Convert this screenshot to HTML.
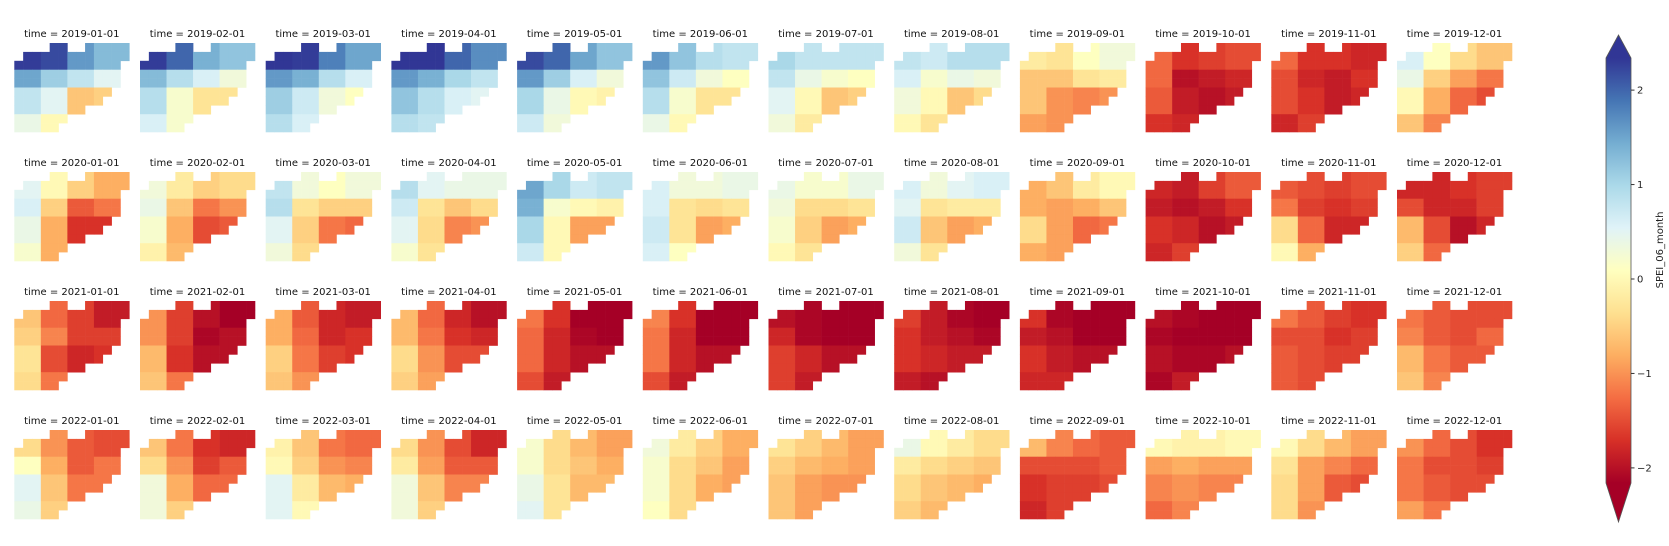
<!DOCTYPE html>
<html><head><meta charset="utf-8"><style>
html,body{margin:0;padding:0;background:#fff;}
svg{display:block;font-family:"DejaVu Sans","Liberation Sans",sans-serif;}
</style></head><body>
<svg id="fig" width="1669" height="546" viewBox="0 0 1669 546" xmlns="http://www.w3.org/2000/svg">
<defs><linearGradient id="cbgrad" x1="0" y1="1" x2="0" y2="0"></linearGradient></defs>
<g id="panels"></g>
<g id="cbar"></g>
</svg>
<script>
// Facet grid data: 4 years x 12 months; each panel: coarse SPEI values
// bands A,B,C (4 col-bands L,ML,MR,R each) and D (L,ML)
const years = ["2019","2020","2021","2022"];
const months = ["01","02","03","04","05","06","07","08","09","10","11","12"];
const vals2019 = [
[2.3,2.2,1.6,1.3, 1.5,1.1,0.8,0.5, 0.8,0.5,-0.6,-0.5, 0.4,0.0],
[2.3,2.0,1.4,1.2, 1.3,0.9,0.6,0.3, 0.9,0.2,-0.3,-0.3, 0.6,0.2],
[2.4,2.3,1.8,1.5, 1.6,1.4,0.9,0.6, 1.1,0.7,0.3,0.1, 0.9,0.6],
[2.4,2.4,2.0,1.7, 1.6,1.4,1.0,0.8, 1.2,0.9,0.6,0.5, 0.9,0.8],
[2.2,2.0,1.5,1.2, 1.6,1.1,0.6,0.3, 1.0,0.4,0.0,-0.1, 0.7,0.3],
[1.6,1.2,0.9,0.8, 1.2,0.7,0.3,0.1, 0.9,0.2,-0.3,-0.3, 0.4,0.0],
[1.0,0.8,0.8,0.8, 0.8,0.4,0.2,0.1, 0.5,0.0,-0.6,-0.5, 0.3,-0.2],
[0.8,0.7,0.9,0.9, 0.6,0.2,0.4,0.3, 0.3,0.0,-0.6,-0.4, 0.0,-0.3],
[-0.2,-0.3,0.1,0.3, -0.6,-0.6,-0.3,-0.2, -0.6,-1.0,-1.1,-1.0, -0.9,-1.0],
[-1.3,-1.7,-1.6,-1.5, -1.3,-2.0,-1.9,-1.8, -1.4,-1.9,-2.0,-1.9, -1.7,-1.8],
[-1.3,-1.7,-1.7,-1.8, -1.5,-1.8,-1.9,-1.7, -1.5,-1.7,-1.9,-1.8, -1.8,-1.6],
[0.6,0.1,-0.4,-0.6, 0.4,-0.5,-0.9,-1.2, 0.0,-0.8,-1.3,-1.5, -0.6,-1.1]];
const vals2020 = [
[0.5,0.0,-0.5,-0.8, 0.6,-0.5,-1.4,-1.2, 0.4,-0.8,-1.7,-1.7, 0.2,-0.8],
[0.3,-0.2,-0.5,-0.4, 0.4,-0.6,-1.2,-1.0, 0.2,-0.8,-1.5,-1.4, -0.1,-0.7],
[0.8,0.3,0.1,0.3, 0.9,-0.3,-0.5,-0.5, 0.5,-0.5,-1.2,-1.3, 0.3,-0.4],
[0.9,0.5,0.4,0.4, 0.7,-0.3,-0.6,-0.4, 0.5,-0.4,-1.1,-1.0, 0.2,-0.3],
[1.5,1.0,0.7,0.8, 1.4,0.2,0.0,-0.1, 1.0,0.0,-0.9,-0.9, 0.7,0.0],
[0.6,0.3,0.3,0.4, 0.6,-0.3,-0.4,-0.3, 0.7,-0.3,-0.9,-0.8, 0.6,0.1],
[0.4,0.2,0.2,0.4, 0.3,-0.4,-0.4,-0.3, 0.2,-0.5,-0.9,-0.8, 0.0,-0.3],
[0.6,0.3,0.5,0.6, 0.5,-0.3,-0.2,-0.2, 0.7,-0.6,-0.9,-0.8, 0.3,-0.3],
[-0.8,-0.6,-0.2,0.0, -0.8,-0.9,-0.8,-0.6, -0.4,-0.9,-1.3,-1.2, -0.8,-0.9],
[-1.8,-1.9,-1.6,-1.4, -1.9,-2.0,-1.9,-1.7, -1.7,-1.8,-2.0,-1.9, -1.8,-1.6],
[-1.4,-1.5,-1.6,-1.5, -1.2,-1.6,-1.7,-1.6, -0.4,-1.3,-1.8,-1.8, 0.0,-0.8],
[-1.8,-1.8,-1.7,-1.6, -1.5,-1.8,-1.8,-1.6, -0.7,-1.5,-2.0,-1.8, -0.5,-1.3]];
const vals2021 = [
[-0.6,-1.3,-1.6,-1.9, -0.5,-1.1,-1.6,-1.6, -0.3,-1.5,-1.8,-1.7, -0.4,-1.2],
[-1.0,-1.6,-2.0,-2.2, -1.0,-1.6,-2.1,-2.0, -0.7,-1.7,-2.0,-2.0, -0.6,-1.2],
[-0.8,-1.4,-1.8,-1.9, -0.8,-1.3,-1.8,-1.7, -0.5,-1.2,-1.6,-1.7, -0.6,-1.0],
[-0.7,-1.3,-1.8,-2.0, -0.7,-1.2,-1.7,-1.8, -0.4,-1.0,-1.5,-1.5, -0.5,-0.9],
[-1.2,-1.7,-2.2,-2.4, -1.3,-1.8,-2.1,-2.2, -1.3,-1.8,-2.0,-2.0, -1.5,-1.9],
[-1.1,-1.7,-2.3,-2.4, -1.2,-1.8,-2.2,-2.3, -1.2,-1.8,-2.0,-2.0, -1.5,-1.9],
[-2.0,-2.1,-2.3,-2.4, -1.8,-2.1,-2.2,-2.2, -1.6,-1.8,-2.0,-2.0, -1.6,-1.9],
[-1.6,-1.9,-2.1,-2.2, -1.7,-1.9,-2.0,-2.1, -1.7,-1.8,-1.9,-1.9, -1.9,-2.0],
[-1.7,-2.1,-2.4,-2.4, -1.9,-2.0,-2.3,-2.3, -1.7,-1.9,-2.0,-2.0, -1.8,-1.8],
[-2.0,-2.1,-2.3,-2.3, -2.1,-2.2,-2.3,-2.2, -2.0,-2.1,-2.1,-2.0, -2.1,-1.9],
[-1.2,-1.4,-1.6,-1.7, -1.5,-1.5,-1.7,-1.6, -1.4,-1.5,-1.6,-1.6, -1.4,-1.5],
[-1.2,-1.4,-1.5,-1.5, -1.1,-1.4,-1.5,-1.3, -0.7,-1.2,-1.4,-1.4, -0.6,-1.1]];
const vals2022 = [
[-0.4,-1.0,-1.4,-1.5, 0.1,-0.8,-1.4,-1.2, 0.5,-0.6,-1.2,-1.2, 0.4,-0.5],
[-0.6,-1.2,-1.7,-1.8, -0.4,-1.0,-1.6,-1.4, 0.3,-0.8,-1.3,-1.3, 0.3,-0.5],
[-0.1,-0.6,-1.2,-1.3, 0.0,-0.5,-1.0,-1.1, 0.5,-0.2,-0.7,-0.8, 0.5,0.0],
[-0.4,-1.0,-1.5,-1.8, -0.2,-0.9,-1.4,-1.4, 0.3,-0.6,-1.1,-1.1, 0.3,-0.5],
[0.2,-0.4,-0.7,-0.9, 0.2,-0.4,-0.6,-0.8, 0.4,-0.3,-0.7,-0.7, 0.5,-0.3],
[0.3,-0.2,-0.5,-0.8, 0.2,-0.4,-0.6,-0.9, 0.2,-0.4,-0.8,-0.9, 0.1,-0.4],
[-0.3,-0.5,-0.7,-0.9, -0.5,-0.7,-0.8,-0.9, -0.6,-0.9,-1.0,-1.0, -0.6,-0.9],
[0.4,0.0,-0.2,-0.4, -0.2,-0.4,-0.5,-0.6, -0.4,-0.6,-0.7,-0.8, -0.5,-0.7],
[-0.7,-1.1,-1.3,-1.4, -1.5,-1.5,-1.5,-1.4, -1.7,-1.6,-1.6,-1.5, -1.8,-1.6],
[0.0,-0.1,-0.1,0.0, -0.9,-0.8,-0.9,-0.9, -1.1,-1.0,-1.1,-1.1, -1.3,-1.1],
[0.0,-0.4,-0.7,-0.9, -0.3,-0.9,-1.1,-1.3, -0.4,-0.9,-1.4,-1.5, -0.4,-1.0],
[-1.0,-1.3,-1.5,-1.7, -1.2,-1.5,-1.5,-1.6, -1.2,-1.4,-1.5,-1.5, -0.9,-1.2]];
const cbTicks = [2, 1, 0, -1, -2];
const cbTickLabels = ["2", "1", "0", "\u22121", "\u22122"];

const allVals = [vals2019, vals2020, vals2021, vals2022];
const vmin = -2.16, vmax = 2.34;
const stops = ["#a50026","#d73027","#f46d43","#fdae61","#fee090","#ffffbf","#e0f3f8","#abd9e9","#74add1","#4575b4","#313695"];
function hex(c){return [1,3,5].map(i=>parseInt(c.substr(i,2),16));}
function cmap(v){
  let t=(v-vmin)/(vmax-vmin); t=Math.max(0,Math.min(1,t));
  const f=t*(stops.length-1), i=Math.min(stops.length-2,Math.floor(f)), r=f-i;
  const a=hex(stops[i]), b=hex(stops[i+1]);
  return "rgb("+a.map((x,k)=>Math.round(x+(b[k]-x)*r)).join(",")+")";
}
const NS="http://www.w3.org/2000/svg";
const rowCols = [[4,5,8,9,10,11,12],[1,2,3,4,5,6,7,8,9,10,11,12]];
for(let r=2;r<=4;r++) rowCols[r]=[0,1,2,3,4,5,6,7,8,9,10,11];
rowCols[5]=[0,1,2,3,4,5,6,7,8,9,10];
rowCols[6]=[0,1,2,3,4,5,6,7,8,9];
rowCols[7]=[0,1,2,3,4,5,6,7];
rowCols[8]=[0,1,2,3,4,5];
rowCols[9]=[0,1,2,3,4];
function rowBand(r){return r<=2?0:(r<=4?1:(r<=7?2:3));}
function colBand(c){return c<=2?0:(c<=5?1:(c<=8?2:3));}
function cellVal(p,r,c){
  const rb=rowBand(r); let cb=colBand(c);
  if(rb===3){cb=Math.min(cb,1);return p[12+cb];}
  return p[rb*4+cb];
}
const panelsG=document.getElementById("panels");
const px0=14.3, pitchX=125.7, rowY=[43,172,301,430], pw=115, ph=89;
const cw=pw/13, chh=ph/10;
years.forEach((yr,yi)=>{
  months.forEach((mo,mi)=>{
    const p=allVals[yi][mi];
    const x0=px0+mi*pitchX, y0=rowY[yi];
    const g=document.createElementNS(NS,"g");
    
    
    const t=document.createElementNS(NS,"text");
    t.setAttribute("x",x0+pw/2);t.setAttribute("y",y0-6);
    t.setAttribute("text-anchor","middle");t.setAttribute("font-size","10");t.setAttribute("fill","#111");
    t.textContent="time = "+yr+"-"+mo+"-01";
    
    
    g.appendChild(t);
    rowCols.forEach((cols,r)=>{
      cols.forEach(c=>{
        const rc=document.createElementNS(NS,"rect");
        rc.setAttribute("x",(x0+c*cw).toFixed(2));rc.setAttribute("y",(y0+r*chh).toFixed(2));
        rc.setAttribute("width",(cw+0.3).toFixed(2));rc.setAttribute("height",(chh+0.3).toFixed(2));
        rc.setAttribute("fill",cmap(cellVal(p,r,c)));
        
        
        g.appendChild(rc);
      });
    });
    panelsG.appendChild(g);
  });
});
// colorbar
const grad=document.getElementById("cbgrad");
stops.forEach((s,i)=>{const st=document.createElementNS(NS,"stop");st.setAttribute("offset",i/(stops.length-1));st.setAttribute("stop-color",s);grad.appendChild(st);});
const cb=document.getElementById("cbar");
const cbx=1606, cbw=25, cbTop=58, cbBot=483, tipTop=35, tipBot=522;
function cbY(v){return cbBot-(v-vmin)/(vmax-vmin)*(cbBot-cbTop);}
const body=document.createElementNS(NS,"rect");
body.setAttribute("x",cbx);body.setAttribute("y",cbTop);body.setAttribute("width",cbw);body.setAttribute("height",cbBot-cbTop);
body.setAttribute("fill","url(#cbgrad)");


cb.appendChild(body);
const up=document.createElementNS(NS,"polygon");
up.setAttribute("points",`${cbx},${cbTop} ${cbx+cbw/2},${tipTop} ${cbx+cbw},${cbTop}`);up.setAttribute("fill",stops[10]);


cb.appendChild(up);
const dn=document.createElementNS(NS,"polygon");
dn.setAttribute("points",`${cbx},${cbBot} ${cbx+cbw/2},${tipBot} ${cbx+cbw},${cbBot}`);dn.setAttribute("fill",stops[0]);


cb.appendChild(dn);
const outline=document.createElementNS(NS,"polygon");
outline.setAttribute("points",`${cbx},${cbTop} ${cbx+cbw/2},${tipTop} ${cbx+cbw},${cbTop} ${cbx+cbw},${cbBot} ${cbx+cbw/2},${tipBot} ${cbx},${cbBot}`);
outline.setAttribute("fill","none");outline.setAttribute("stroke","#555");outline.setAttribute("stroke-width","0.8");


cb.appendChild(outline);
cbTicks.forEach((v,i)=>{
  const y=cbY(v);
  const l=document.createElementNS(NS,"line");
  l.setAttribute("x1",cbx+cbw);l.setAttribute("x2",cbx+cbw+3.5);l.setAttribute("y1",y);l.setAttribute("y2",y);l.setAttribute("stroke","#333");
  
  
  cb.appendChild(l);
  const t=document.createElementNS(NS,"text");
  t.setAttribute("x",cbx+cbw+6);t.setAttribute("y",y+3.5);t.setAttribute("font-size","10");t.setAttribute("fill","#222");
  t.textContent=cbTickLabels[i];
  
  
  cb.appendChild(t);
});
const lab=document.createElementNS(NS,"text");
lab.setAttribute("transform","translate(1663,250) rotate(-90)");lab.setAttribute("text-anchor","middle");
lab.setAttribute("font-size","10");lab.setAttribute("fill","#222");lab.textContent="SPEI_06_month";


cb.appendChild(lab);
</script>
</body></html>
